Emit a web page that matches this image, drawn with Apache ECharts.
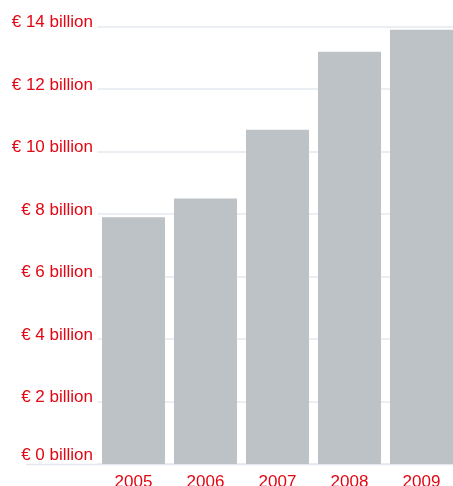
<!DOCTYPE html>
<html>
<head>
<meta charset="utf-8">
<style>
  html, body { margin: 0; padding: 0; background: #ffffff; }
  #chart { width: 453px; height: 486px; }
</style>
<script src="https://cdn.jsdelivr.net/npm/echarts@6/dist/echarts.min.js"></script>
</head>
<body>
<div id="chart"></div>
<script>
// Annual totals, in billions of euros
const years = ['2005', '2006', '2007', '2008', '2009'];
const totals = [7.9, 8.5, 10.7, 13.2, 13.9];
const yTicks = [0, 2, 4, 6, 8, 10, 12, 14];

const RED = '#e30613';
const FONT = '"Liberation Sans", Arial, Helvetica, sans-serif';

const chart = echarts.init(document.getElementById('chart'), null, { renderer: 'canvas' });

const labelText = { color: RED, fontFamily: FONT, fontSize: 17 };

chart.setOption({
  animation: false,
  backgroundColor: '#ffffff',
  grid: {
    left: 97.5, top: 26.7, width: 360, height: 437.3,
    containLabel: false,
    outerBoundsMode: 'none'
  },
  xAxis: {
    type: 'category',
    data: years,
    axisLine: { show: false },
    axisTick: { show: false },
    axisLabel: Object.assign({ margin: 10 }, labelText)
  },
  yAxis: {
    type: 'value',
    min: yTicks[0],
    max: yTicks[yTicks.length - 1],
    interval: 2,
    axisLine: { show: false },
    axisTick: { show: false },
    splitLine: { lineStyle: { color: '#e4e8ee', width: 1.5 } },
    axisLabel: Object.assign({
      margin: 4.5,
      verticalAlign: 'bottom',
      // the zero label sits a little higher, clear of the baseline
      formatter: v => (v === 0 ? '{z|' : '{n|') + '€ ' + v + ' billion}',
      rich: {
        n: Object.assign({ lineHeight: 8 }, labelText),
        z: Object.assign({ lineHeight: 18 }, labelText)
      }
    }, labelText)
  },
  graphic: [{
    type: 'line',
    shape: { x1: 26, y1: 464.5, x2: 453, y2: 464.5 },
    style: { stroke: '#e4e8ee', lineWidth: 1.5 },
    z: 1
  }],
  series: [{
    type: 'bar',
    data: totals,
    barCategoryGap: '12.5%',
    itemStyle: { color: '#bdc2c6' },
    z: 3
  }]
});
</script>
</body>
</html>
